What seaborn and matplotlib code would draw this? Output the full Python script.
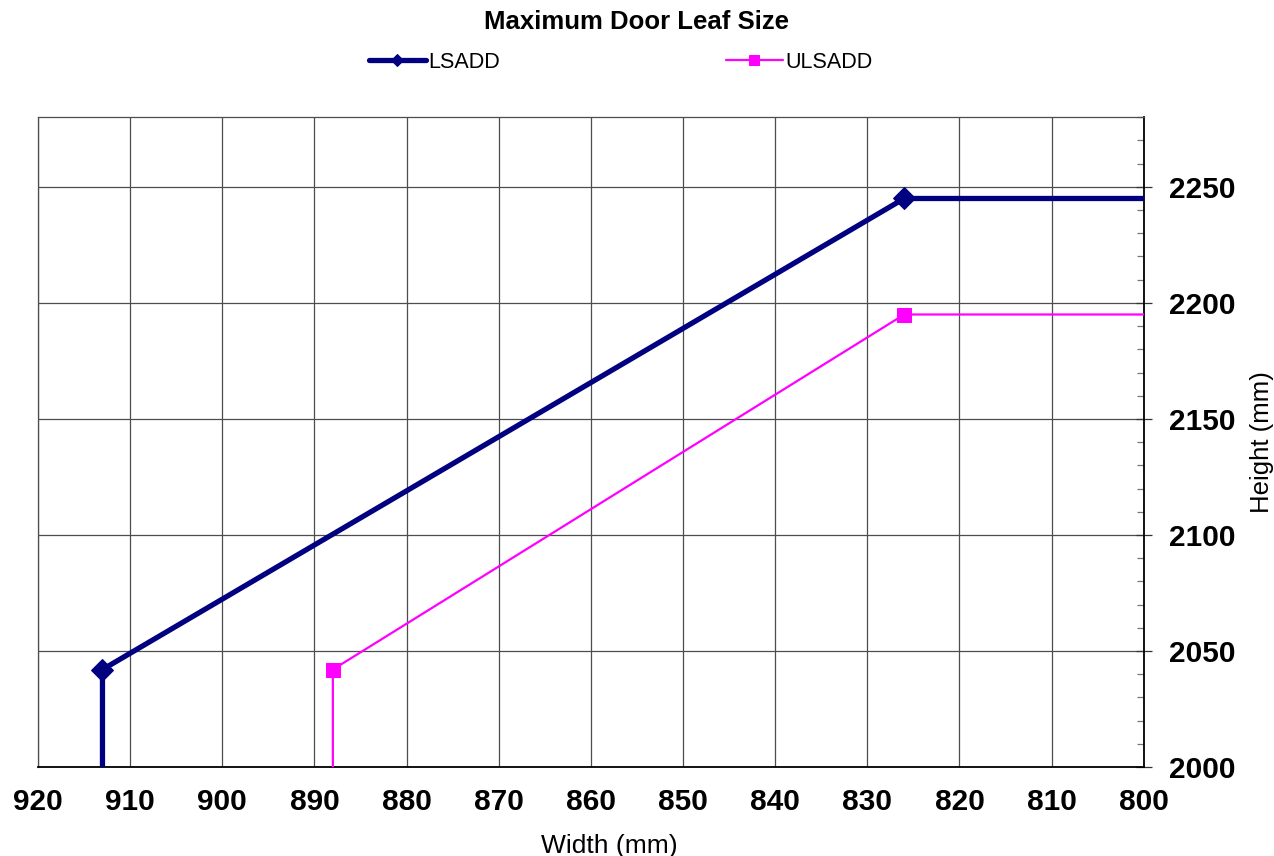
import numpy as np
import pandas as pd
import matplotlib
matplotlib.use('Agg')
import matplotlib.pyplot as plt
from matplotlib.ticker import MultipleLocator
import seaborn as sns

# data (end points past the axes are clipped)
lsadd_width = [913, 913, 826, 790]
lsadd_height = [1990, 2042, 2245, 2245]
ulsadd_width = [888, 888, 826, 790]
ulsadd_height = [1990, 2042, 2195, 2195]

x_ticks = [920, 910, 900, 890, 880, 870, 860, 850, 840, 830, 820, 810, 800]
y_ticks = [2000, 2050, 2100, 2150, 2200, 2250]

sns.set_style('white')
plt.rcParams['font.family'] = ['Liberation Sans', 'DejaVu Sans']
plt.rcParams['text.color'] = 'black'
plt.rcParams['axes.labelcolor'] = 'black'
plt.rcParams['xtick.labelcolor'] = 'black'
plt.rcParams['ytick.labelcolor'] = 'black'

fig = plt.figure(figsize=(12.74, 8.56), dpi=100)
ax = fig.add_axes([0.0298, 0.104, 0.868, 0.759])

lsadd = pd.DataFrame({'w': lsadd_width, 'h': lsadd_height})
ulsadd = pd.DataFrame({'w': ulsadd_width, 'h': ulsadd_height})

sns.lineplot(data=lsadd, x='w', y='h', sort=False, estimator=None, ax=ax,
             color='#000080', linewidth=3.8, marker='D', markersize=11,
             markeredgecolor='#000080', label='LSADD', zorder=4)
sns.lineplot(data=ulsadd, x='w', y='h', sort=False, estimator=None, ax=ax,
             color='#FF00FF', linewidth=1.6, marker='s', markersize=10.5,
             markeredgecolor='#FF00FF', label='ULSADD', zorder=3)

ax.set_xlim(920, 800)
ax.set_ylim(2000, 2280)
ax.set_xticks(x_ticks)
ax.set_yticks(y_ticks)
ax.xaxis.set_minor_locator(MultipleLocator(5))
ax.yaxis.set_minor_locator(MultipleLocator(10))
ax.yaxis.tick_right()
ax.yaxis.set_label_position('right')

ax.grid(True, which='major', color='#4d4d4d', linewidth=0.9)
ax.set_axisbelow(True)

ax.tick_params(axis='both', which='major', direction='inout', length=12,
               width=0.9, color='#333333', labelsize=21.5)
ax.tick_params(axis='both', which='minor', direction='in', length=5,
               width=0.9, color='#777777')
for lab in ax.get_xticklabels() + ax.get_yticklabels():
    lab.set_fontweight('bold')
ax.tick_params(axis='x', pad=9)
ax.tick_params(axis='y', pad=12)

for side in ['top', 'left']:
    ax.spines[side].set_color('#4d4d4d')
    ax.spines[side].set_linewidth(0.9)
for side in ['bottom', 'right']:
    ax.spines[side].set_color('black')
    ax.spines[side].set_linewidth(1.3)

ax.set_xlabel('Width (mm)', fontsize=19)
ax.set_ylabel('Height (mm)', fontsize=18.5)
ax.xaxis.set_label_coords(0.517, -0.103)
ax.yaxis.set_label_coords(1.096, 0.5)

handles, labels = ax.get_legend_handles_labels()
ax.get_legend().remove()
leg = fig.legend(handles, labels, loc='center', bbox_to_anchor=(0.487, 0.927), ncol=2,
                 frameon=False, fontsize=15.5, handlelength=2.65, handletextpad=0.1,
                 columnspacing=10.5)
leg_handles = leg.legend_handles
leg_handles[0].set_markersize(6)
leg_handles[1].set_markersize(7.5)

fig.suptitle('Maximum Door Leaf Size', fontsize=18.5, fontweight='bold', y=0.988)

fig.savefig('out.png', dpi=100)
